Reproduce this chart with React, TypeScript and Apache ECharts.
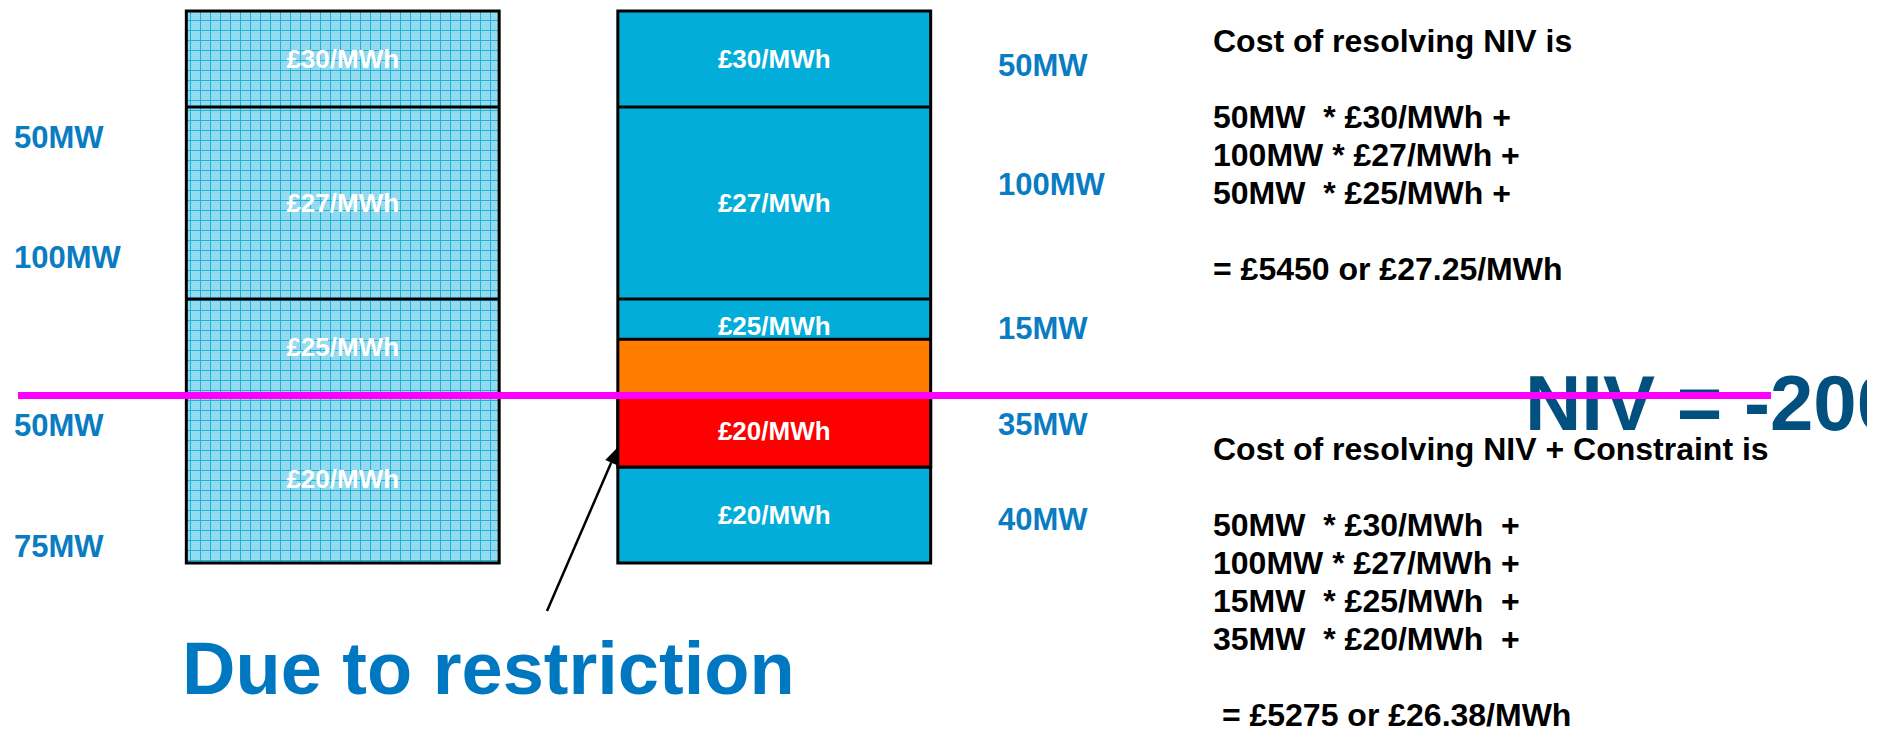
import React, { useEffect, useRef } from 'react';
import * as echarts from 'echarts';

// ---- data ----
const categories = ['Bid stack', 'Bid stack with constraint'];
const leftPrices = ['£30/MWh', '£27/MWh', '£25/MWh', '£20/MWh'];
const leftHeights = [50, 100, 50, 87.5];
const rightPrices = ['£30/MWh', '£27/MWh', '£25/MWh', '', '£20/MWh', '£20/MWh'];
const rightHeights = [50, 100, 21, 29, 37.5, 50];
const rightKinds = ['offer', 'offer', 'offer', 'constraint', 'restricted', 'offer'];
const leftVolumes = ['50MW', '100MW', '50MW', '75MW'];
const rightVolumes = ['50MW', '100MW', '15MW', '35MW', '40MW'];
const nivValue = 200;
const nivLabel = 'NIV = -200';
const costNiv = [
  'Cost of resolving NIV is',
  '',
  '50MW  * £30/MWh +',
  '100MW * £27/MWh +',
  '50MW  * £25/MWh +',
  '',
  '= £5450 or £27.25/MWh',
];
const costConstraint = [
  'Cost of resolving NIV + Constraint is',
  '',
  '50MW  * £30/MWh  +',
  '100MW * £27/MWh +',
  '15MW  * £25/MWh  +',
  '35MW  * £20/MWh  +',
  '',
  ' = £5275 or £26.38/MWh',
];
const annotation = 'Due to restriction';

const FONT = '"Liberation Sans", Arial, Helvetica, sans-serif';

function makePattern(): HTMLCanvasElement {
  const c = document.createElement('canvas');
  c.width = 10;
  c.height = 10;
  const g = c.getContext('2d')!;
  g.fillStyle = '#8fd8ee';
  g.fillRect(0, 0, 10, 10);
  g.fillStyle = '#a3e0f2';
  for (let y = 1; y < 10; y += 2) {
    for (let x = 1 + ((y >> 1) % 2); x < 10; x += 2) g.fillRect(x, y, 1, 1);
  }
  g.fillStyle = '#1ab4db';
  g.fillRect(0, 0, 10, 1);
  g.fillRect(0, 0, 1, 10);
  return c;
}

export default function App() {
  const ref = useRef<HTMLDivElement>(null);
  useEffect(() => {
    document.body.style.margin = '0';
    const chart = echarts.init(ref.current!, null, { renderer: 'svg' });
    const pattern = makePattern();
    const stacks = [leftHeights, rightHeights];
    const prices = [leftPrices, rightPrices];
    const fillFor = (cat: number, j: number) => {
      if (cat === 0) return { image: pattern, repeat: 'repeat' } as any;
      const k = rightKinds[j];
      if (k === 'constraint') return '#ff7c00';
      if (k === 'restricted') return '#ff0000';
      return '#02aed9';
    };

    const option: any = {
      animation: false,
      grid: { left: 127, top: 11, width: 863, height: 576 },
      xAxis: { type: 'category', data: categories, show: false },
      yAxis: { type: 'value', inverse: true, min: 0, max: 300, show: false },
      series: [
        {
          type: 'custom',
          data: [[0], [1]],
          z: 2,
          renderItem: (params: any, api: any) => {
            const cat = api.value(0);
            const heights = stacks[cat];
            const labels = prices[cat];
            const cx = api.coord([cat, 0])[0];
            const bw = api.size([1, 0])[0] * 0.725;
            const x0 = cx - bw / 2;
            const children: any[] = [];
            const lines: any[] = [];
            let acc = 0;
            const yTop = api.coord([cat, 0])[1];
            for (let j = 0; j < heights.length; j++) {
              const y0 = api.coord([cat, acc])[1];
              const y1 = api.coord([cat, acc + heights[j]])[1];
              const restricted = cat === 1 && rightKinds[j] === 'restricted';
              children.push({
                type: 'rect',
                shape: { x: x0, y: y0, width: bw, height: y1 - y0 },
                style: restricted
                  ? { fill: fillFor(cat, j), stroke: '#000', lineWidth: 3 }
                  : { fill: fillFor(cat, j) },
                z2: restricted ? 5 : 1,
              });
              if (labels[j]) {
                const h = y1 - y0;
                const ly = h < 50 ? y1 - 13 : (y0 + y1) / 2;
                children.push({
                  type: 'text',
                  z2: 10,
                  style: {
                    text: labels[j],
                    x: cx,
                    y: ly,
                    align: 'center',
                    verticalAlign: 'middle',
                    fill: '#ffffff',
                    fontSize: 26,
                    fontWeight: 'bold',
                    fontFamily: FONT,
                  },
                });
              }
              const undivided = cat === 0 && j === 3;
              if (j > 0 && !undivided) {
                lines.push({
                  type: 'line',
                  z2: 4,
                  shape: { x1: x0, y1: y0, x2: x0 + bw, y2: y0 },
                  style: { stroke: '#000', lineWidth: 3 },
                });
              }
              acc += heights[j];
            }
            const yBot = api.coord([cat, acc])[1];
            children.push(...lines);
            children.push({
              type: 'rect',
              z2: 4,
              shape: { x: x0, y: yTop, width: bw, height: yBot - yTop },
              style: { fill: 'none', stroke: '#000', lineWidth: 3 },
            });
            return { type: 'group', children };
          },
        },
      ],
    };
    chart.setOption(option);

    const nivY = chart.convertToPixel({ gridIndex: 0 }, [0, nivValue])[1] + 0.5;
    const blue = '#0a7cc1';
    const volText = (t: string, x: number, baseline: number) => ({
      type: 'text',
      z: 5,
      style: {
        text: t,
        x,
        y: baseline - 10.5,
        verticalAlign: 'middle',
        fill: blue,
        fontSize: 31,
        fontWeight: 'bold',
        fontFamily: FONT,
      },
    });
    const leftBaselines = [148, 268, 436, 557];
    const rightBaselines = [76, 195, 339, 435, 530];

    // arrow
    const tail = [547, 611];
    const tip = [618, 447];
    const dx = tip[0] - tail[0];
    const dy = tip[1] - tail[1];
    const len = Math.hypot(dx, dy);
    const ux = dx / len;
    const uy = dy / len;
    const hl = 17;
    const hw = 6.5;
    const bx = tip[0] - ux * hl;
    const by = tip[1] - uy * hl;

    const blockStyle = {
      verticalAlign: 'top',
      lineHeight: 38,
      fill: '#000',
      fontSize: 32,
      fontWeight: 'bold',
      fontFamily: FONT,
    };

    const graphic: any[] = [
      ...leftVolumes.map((t, i) => volText(t, 14, leftBaselines[i])),
      ...rightVolumes.map((t, i) => volText(t, 998, rightBaselines[i])),
      {
        type: 'text',
        z: 5,
        style: { text: costNiv.join('\n'), x: 1213, y: 22, ...blockStyle },
      },
      {
        type: 'text',
        z: 5,
        style: { text: costConstraint.join('\n'), x: 1213, y: 430, ...blockStyle },
      },
      {
        type: 'text',
        z: 6,
        style: {
          text: nivLabel,
          x: 1525,
          y: 430 - 27,
          verticalAlign: 'middle',
          fill: '#02507f',
          fontSize: 78,
          fontWeight: 'bold',
          fontFamily: FONT,
        },
      },
      {
        type: 'line',
        z: 7,
        shape: { x1: 18, y1: nivY, x2: 1771, y2: nivY },
        style: { stroke: '#ff00ff', lineWidth: 7 },
      },
      {
        type: 'rect',
        z: 8,
        shape: { x: 1867, y: 340, width: 30, height: 120 },
        style: { fill: '#ffffff' },
      },
      {
        type: 'text',
        z: 5,
        style: {
          text: annotation,
          x: 182,
          y: 693 - 25,
          verticalAlign: 'middle',
          fill: '#0077c1',
          fontSize: 74,
          fontWeight: 'bold',
          fontFamily: FONT,
        },
      },
      {
        type: 'line',
        z: 6,
        shape: { x1: tail[0], y1: tail[1], x2: bx, y2: by },
        style: { stroke: '#000', lineWidth: 2.5 },
      },
      {
        type: 'polygon',
        z: 6,
        shape: {
          points: [
            [tip[0], tip[1]],
            [bx - uy * hw, by + ux * hw],
            [bx + uy * hw, by - ux * hw],
          ],
        },
        style: { fill: '#000' },
      },
    ];
    chart.setOption({ graphic });

    return () => chart.dispose();
  }, []);
  return <div ref={ref} style={{ width: 1887, height: 732 }} />;
}
